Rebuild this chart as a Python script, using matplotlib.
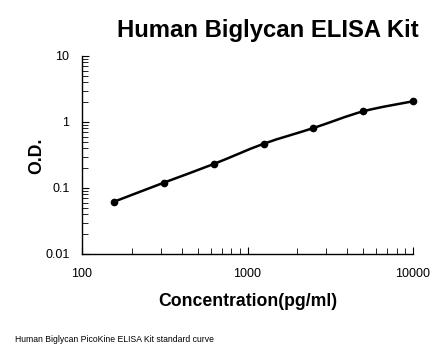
import numpy as np
import matplotlib.pyplot as plt
from matplotlib.path import Path
from matplotlib.patches import PathPatch

plt.rcParams['font.family'] = ['Liberation Sans', 'DejaVu Sans']

concentration = [156.25, 312.5, 625, 1250, 2500, 5000, 10000]
od = [0.062, 0.1205, 0.231, 0.467, 0.81, 1.45, 2.06]


def smooth_path(xs, ys, k=1 / 6):
    # Excel-like smoothed line: cubic bezier through points, built in log space
    lx, ly = np.log10(xs), np.log10(ys)
    n = len(lx)
    verts = [(xs[0], ys[0])]
    codes = [Path.MOVETO]
    for i in range(n - 1):
        p0 = i - 1 if i > 0 else i
        p3 = i + 2 if i + 2 < n else i + 1
        c1 = (lx[i] + (lx[i + 1] - lx[p0]) * k, ly[i] + (ly[i + 1] - ly[p0]) * k)
        c2 = (lx[i + 1] - (lx[p3] - lx[i]) * k, ly[i + 1] - (ly[p3] - ly[i]) * k)
        verts += [(10 ** c1[0], 10 ** c1[1]), (10 ** c2[0], 10 ** c2[1]), (xs[i + 1], ys[i + 1])]
        codes += [Path.CURVE4] * 3
    return Path(verts, codes)


fig = plt.figure(figsize=(4.46, 3.56), dpi=100)
ax = fig.add_axes([82 / 446, 1 - 254 / 356, (413 - 82) / 446, (254 - 56) / 356])

ax.set_xscale('log')
ax.set_yscale('log')
ax.set_xlim(100, 10000)
ax.set_ylim(0.01, 10)

ax.add_patch(PathPatch(smooth_path(concentration, od), facecolor='none',
                       edgecolor='black', lw=1.8, capstyle='round'))
ax.plot(concentration, od, 'o', color='black', markersize=4.5, clip_on=False)

for s in ['top', 'right']:
    ax.spines[s].set_visible(False)
for s in ['left', 'bottom']:
    ax.spines[s].set_linewidth(1.0)

ax.set_xticks([100, 1000, 10000])
ax.set_xticklabels(['100', '1000', '10000'])
ax.set_yticks([0.01, 0.1, 1, 10])
ax.set_yticklabels(['0.01', '0.1', '1', '10'])
ax.tick_params(which='major', direction='in', length=5, labelsize=9)
ax.tick_params(axis='x', which='major', pad=10)
ax.tick_params(axis='y', which='major', pad=9)
ax.tick_params(which='minor', direction='in', length=4)
ax.minorticks_on()
ax.yaxis.set_minor_formatter(plt.NullFormatter())
ax.xaxis.set_minor_formatter(plt.NullFormatter())

fig.text(247.5 / 446, 1 - 301 / 356, 'Concentration(pg/ml)', fontsize=12.7,
         fontweight='bold', ha='center', va='center')
fig.text(36.5 / 446, 1 - 156 / 356, 'O.D.', fontsize=12.7, fontweight='bold',
         rotation=90, ha='center', va='center')
fig.text(268 / 446, 1 - 30 / 356, 'Human Biglycan ELISA Kit', fontsize=17.2,
         fontweight='bold', ha='center', va='center')
fig.text(15 / 446, 1 - 340 / 356, 'Human Biglycan PicoKine ELISA Kit standard curve',
         fontsize=6.2, ha='left', va='center')

fig.savefig('out.png', dpi=100)
